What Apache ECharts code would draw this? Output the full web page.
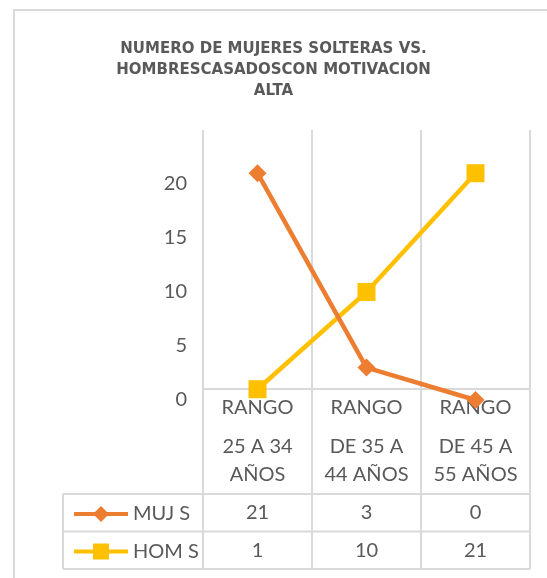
<!DOCTYPE html>
<html>
<head>
<meta charset="utf-8">
<script src="https://cdn.jsdelivr.net/npm/echarts@6/dist/echarts.min.js"></script>
<style>
html,body{margin:0;padding:0;background:#fff}
#chart{width:547px;height:578px}
</style>
</head>
<body>
<div id="chart"></div>
<script>
// datos
var titulo = 'NUMERO DE MUJERES SOLTERAS VS.\nHOMBRESCASADOSCON MOTIVACION\nALTA';
var categorias = ['RANGO\n25 A 34\nAÑOS', 'RANGO\nDE 35 A\n44 AÑOS', 'RANGO\nDE 45 A\n55 AÑOS'];
var mujS = [21, 3, 0];
var homS = [1, 10, 21];
var yMin = 0, yMax = 25, yPaso = 5;

var gris = '#595959';
var linea = '#d9d9d9';
var fuente = 'Lato';

var chart = echarts.init(document.getElementById('chart'));

var option = {
    backgroundColor: '#fff',
    animation: false,
    title: {
        text: titulo,
        left: 'center',
        top: 34,
        textStyle: {
            fontFamily: 'DejaVu Sans',
            fontSize: 15,
            fontWeight: 'bold',
            color: gris,
            lineHeight: 21
        }
    },
    legend: {
        orient: 'vertical',
        left: 67,
        top: 497,
        itemWidth: 54,
        itemHeight: 20,
        itemGap: 13.5,
        data: ['MUJ S', 'HOM S'],
        lineStyle: { width: 4 },
        textStyle: { color: gris, fontSize: 20, lineHeight: 24, fontFamily: fuente }
    },
    grid: {
        left: 203,
        right: 17,
        top: 130,
        bottom: 178
    },
    xAxis: {
        type: 'category',
        data: categorias,
        boundaryGap: true,
        axisLine: { show: false },
        axisTick: { show: false },
        splitLine: { show: false },
        axisLabel: {
            margin: -17,
            interval: 0,
            color: gris,
            fontFamily: fuente,
            formatter: function (v) {
                var p = v.split('\n');
                return '{a|' + p[0] + '}\n{b|' + p[1] + '}\n{b|' + p[2] + '}';
            },
            rich: {
                a: { fontSize: 20, fontFamily: fuente, color: gris, lineHeight: 50 },
                b: { fontSize: 20, fontFamily: fuente, color: gris, lineHeight: 28 }
            }
        }
    },
    yAxis: {
        type: 'value',
        min: yMin,
        max: yMax,
        interval: yPaso,
        axisLine: { show: false },
        axisTick: { show: false },
        splitLine: { show: false },
        axisLabel: {
            showMaxLabel: false,
            margin: 16,
            color: gris,
            fontSize: 20,
            fontFamily: fuente
        }
    },
    series: [
        {
            name: 'HOM S',
            type: 'line',
            data: homS,
            symbol: 'rect',
            symbolSize: 18,
            color: '#FFC000',
            lineStyle: { width: 4.5 }
        },
        {
            name: 'MUJ S',
            type: 'line',
            data: mujS,
            symbol: 'diamond',
            symbolSize: 18,
            color: '#ED7D31',
            lineStyle: { width: 4.5 }
        }
    ]
};

chart.setOption(option);

// tabla de datos y lineas de division
var c0 = chart.convertToPixel({ xAxisIndex: 0 }, categorias[0]);
var c1 = chart.convertToPixel({ xAxisIndex: 0 }, categorias[1]);
var banda = c1 - c0;
var izq = c0 - banda / 2;
var der = izq + banda * categorias.length;
var arriba = chart.convertToPixel({ yAxisIndex: 0 }, yMax);
var tablaTop = 389, filaTop = 494, altoFila = 37.5, tablaIzq = 63;
var filas = [mujS, homS];
var abajo = filaTop + altoFila * filas.length;

var g = [];
function seg(x1, y1, x2, y2) {
    g.push({ type: 'line', z: -1, shape: { x1: x1, y1: y1, x2: x2, y2: y2 },
        style: { stroke: linea, lineWidth: 2 } });
}
// borde exterior
g.push({ type: 'rect', z: -2, shape: { x: 14, y: 10, width: 560, height: 600 },
    style: { fill: 'none', stroke: linea, lineWidth: 2 } });
for (var i = 0; i <= categorias.length; i++) {
    var x = izq + banda * i;
    seg(x, arriba, x, abajo);
}
seg(izq, tablaTop, der, tablaTop);
seg(tablaIzq, filaTop, der, filaTop);
for (var r = 0; r < filas.length; r++) {
    var yb = filaTop + altoFila * (r + 1);
    seg(tablaIzq, yb, der, yb);
    for (var k = 0; k < filas[r].length; k++) {
        g.push({
            type: 'text',
            x: chart.convertToPixel({ xAxisIndex: 0 }, categorias[k]),
            y: filaTop + altoFila * r + altoFila / 2,
            style: {
                text: String(filas[r][k]),
                fill: gris,
                font: '20px ' + fuente,
                align: 'center',
                verticalAlign: 'middle'
            }
        });
    }
}
seg(tablaIzq, filaTop, tablaIzq, abajo);

chart.setOption({ graphic: g });
</script>
</body>
</html>
